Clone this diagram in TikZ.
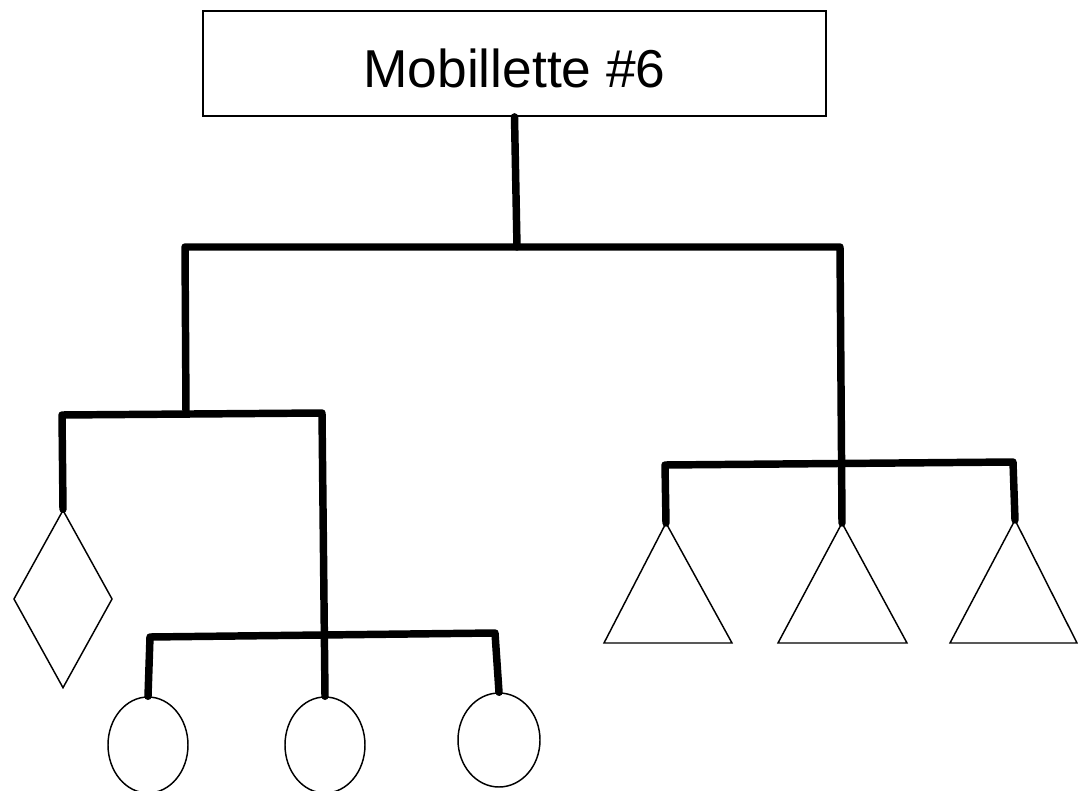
\documentclass[tikz,border=0pt]{standalone}
\usepackage{fontspec}
\setmainfont{Liberation Sans}
\usetikzlibrary{shapes.geometric}
\begin{document}
\begin{tikzpicture}[x=0.75pt,y=-0.75pt,
  bar/.style={line width=5.6pt, line join=round, line cap=round},
  outline/.style={draw, line width=1.1pt, line join=miter},
  titlebox/.style={outline, rectangle, minimum width=467pt, minimum height=79pt, inner sep=0pt,
    text height=36.5pt, text depth=0pt, font=\fontsize{40}{48}\selectfont},
  dia/.style={outline, diamond, minimum width=74pt, minimum height=133.5pt, inner sep=0pt},
  ball/.style={outline, ellipse, inner sep=0pt}]
\useasboundingbox (0,0) rectangle (1078,791);
% title
\node[titlebox] (title) at (514.5,63.5) {Mobillette \#6};
% junction points
\coordinate (top) at (517,247);
\coordinate (tl) at (185,247);
\coordinate (tr) at (840,247);
\coordinate (Lj) at (186,413);
\coordinate (La) at (62,415);
\coordinate (Lb) at (322,413);
\coordinate (Ca) at (150,637);
\coordinate (Cb) at (495,633);
\coordinate (Ra) at (665,465);
\coordinate (Rb) at (1013,462);
% hanging shapes
\node[dia] (d1) at (63,599) {};
\node[ball, minimum width=60pt, minimum height=72pt] (c1) at (148,745) {};
\node[ball, minimum width=60pt, minimum height=72pt] (c2) at (325,745) {};
\node[ball, minimum width=61.5pt, minimum height=70.5pt] (c3) at (499,740) {};
\coordinate (t1) at (666,523);
\coordinate (t2) at (842,523);
\coordinate (t3) at (1015,520);
\draw[outline] (t1) -- (604,643) -- (732,643) -- cycle;
\draw[outline] (t2) -- (778,643) -- (907,643) -- cycle;
\draw[outline] (t3) -- (950,643) -- (1077,643) -- cycle;
% bars
\draw[bar] (title.south) -- (top);
\draw[bar] (Lj) -- (tl) -- (tr) -- (t2);
\draw[bar] (d1.north) -- (La) -- (Lb) -- (c2.north);
\draw[bar] (c1.north) -- (Ca) -- (Cb) -- (c3.north);
\draw[bar] (t1) -- (Ra) -- (Rb) -- (t3);
\end{tikzpicture}
\end{document}
